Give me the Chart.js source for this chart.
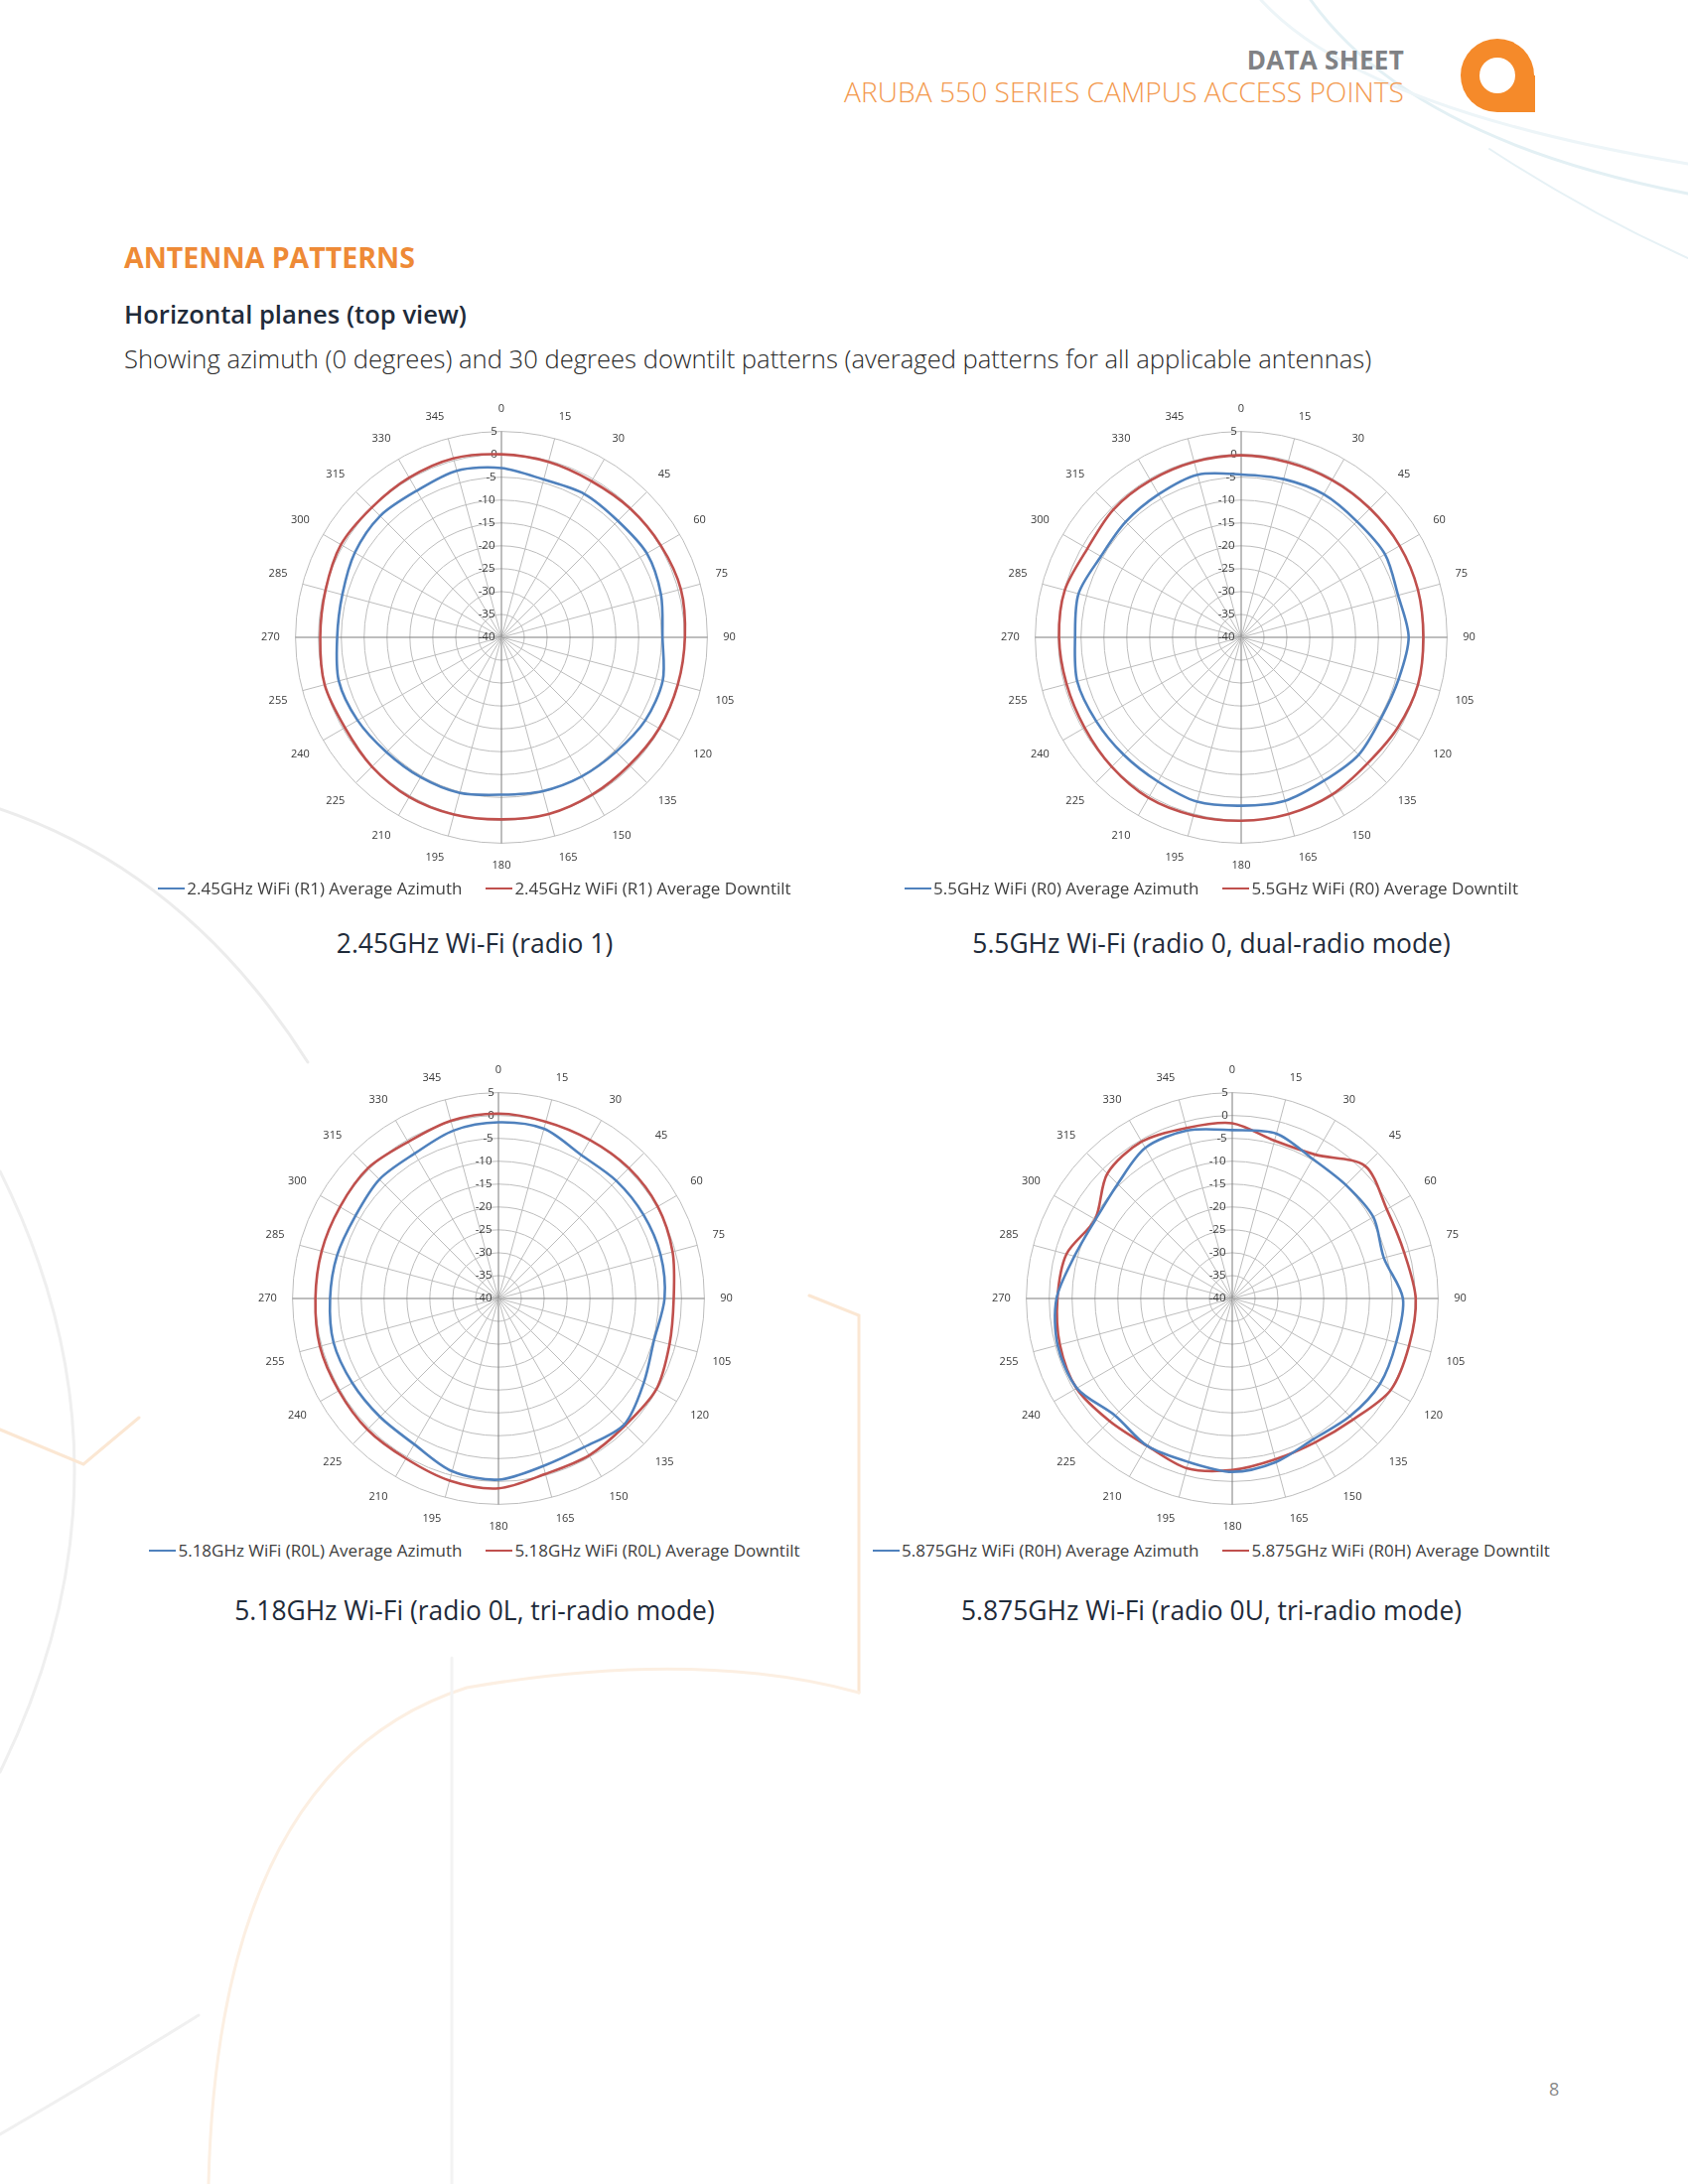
<!DOCTYPE html>
<html>
<head>
<meta charset="utf-8">
<title>Antenna patterns</title>
<script src="https://cdn.jsdelivr.net/npm/chart.js@4.4.1/dist/chart.umd.min.js"></script>
<style>
  body { margin: 0; background: #fff; font-family: "Open Sans", "Noto Sans", sans-serif; }
  #page { position: relative; width: 1700px; height: 2200px; overflow: hidden; background: #fff; }
  .abs { position: absolute; }
  .hdr1 { right: 286px; top: 42px; font-size: 26px; font-weight: 700; color: #808285; letter-spacing: 0.3px; }
  .hdr2 { right: 286px; top: 73px; font-size: 28.2px; font-weight: 300; color: #f39a4f; }
  .h1 { left: 125px; top: 240px; font-size: 28.5px; font-weight: 700; color: #ee8a36; }
  .h2 { left: 125px; top: 299px; font-size: 25.6px; font-weight: 600; color: #1f2b3a; }
  .desc { left: 125px; top: 344px; font-size: 25.6px; font-weight: 300; color: #2a2a2a; }
  .plot { position: absolute; width: 484px; height: 484px; }
  .legend { position: absolute; width: 800px; text-align: center; font-size: 17px; color: #404040; white-space: nowrap; }
  .legend .sw { display: inline-block; width: 27px; height: 2px; vertical-align: middle; margin-right: 2px; position: relative; top: -1px; }
  .legend .gap { display: inline-block; width: 24px; }
  .caption { position: absolute; width: 800px; text-align: center; font-size: 26.4px; color: #1f2b3a; }
  .pnum { left: 1560px; top: 2092px; font-size: 18px; color: #8a8a8a; }
</style>
</head>
<body>
<div id="page">
  <svg class="abs" style="left:0;top:0" width="1700" height="2200">
    <g fill="none" stroke-linecap="round">
      <path d="M1320 0 Q1420 140 1700 195" stroke="#e3f0f4" stroke-width="3"/>
      <path d="M1270 0 Q1370 110 1700 165" stroke="#edf5f8" stroke-width="3"/>
      <path d="M1500 150 Q1600 215 1700 260" stroke="#e6f1f5" stroke-width="2"/>
      <path d="M0 815 Q190 880 310 1070" stroke="#ececec" stroke-width="3"/>
      <path d="M0 1180 Q150 1480 0 1785" stroke="#efefef" stroke-width="3"/>
      <path d="M0 1440 L84 1475 L140 1428" stroke="#fbe7d3" stroke-width="3"/>
      <path d="M815 1305 L865 1325 L865 1705" stroke="#fbe7d3" stroke-width="3"/>
      <path d="M210 2200 Q220 1780 470 1700 Q700 1660 865 1705" stroke="#fcefe2" stroke-width="3"/>
      <path d="M455 1670 L455 2200" stroke="#f3f3f3" stroke-width="3"/>
      <path d="M0 2150 Q120 2080 200 2030" stroke="#f0f0f0" stroke-width="3"/>
    </g>
    <g fill="#f58a2a">
      <circle cx="1508" cy="76" r="37"/>
      <rect x="1508" y="76" width="38" height="37"/>
    </g>
    <circle cx="1508" cy="76" r="18" fill="#fff"/>
  </svg>

  <div class="abs hdr1">DATA SHEET</div>
  <div class="abs hdr2">ARUBA 550 SERIES CAMPUS ACCESS POINTS</div>
  <div class="abs h1">ANTENNA PATTERNS</div>
  <div class="abs h2">Horizontal planes (top view)</div>
  <div class="abs desc">Showing azimuth (0 degrees) and 30 degrees downtilt patterns (averaged patterns for all applicable antennas)</div>

  <div class="plot" style="left:260px;top:400px"><canvas id="c1" width="484" height="484"></canvas></div>
  <div class="plot" style="left:1005px;top:400px"><canvas id="c2" width="484" height="484"></canvas></div>
  <div class="plot" style="left:257px;top:1066px"><canvas id="c3" width="484" height="484"></canvas></div>
  <div class="plot" style="left:996px;top:1066px"><canvas id="c4" width="484" height="484"></canvas></div>

  <div class="legend" id="l1" style="left:78px;top:883px"></div>
  <div class="legend" id="l2" style="left:820px;top:883px"></div>
  <div class="legend" id="l3" style="left:78px;top:1550px"></div>
  <div class="legend" id="l4" style="left:820px;top:1550px"></div>

  <div class="caption" style="left:78px;top:932px">2.45GHz Wi-Fi (radio 1)</div>
  <div class="caption" style="left:820px;top:932px">5.5GHz Wi-Fi (radio 0, dual-radio mode)</div>
  <div class="caption" style="left:78px;top:1604px">5.18GHz Wi-Fi (radio 0L, tri-radio mode)</div>
  <div class="caption" style="left:820px;top:1604px">5.875GHz Wi-Fi (radio 0U, tri-radio mode)</div>

  <div class="abs pnum">8</div>
</div>

<script>
// angles in degrees, clockwise from top
const angleLabels = ["0", "15", "30", "45", "60", "75", "90", "105", "120", "135", "150", "165",
  "180", "195", "210", "225", "240", "255", "270", "285", "300", "315", "330", "345"];

// gain in dB, one value per angle label
const azim245 = [-3, -4.3, -3.8, -4, -3.3, -3.9, -4.8, -3.5, -3.7, -4.6, -4.9, -5.2,
  -5.6, -4.8, -4.7, -4.5, -3.7, -3.2, -4.1, -4, -3, -2.5, -3, -2.3];
const down245 = [0, -0.3, -0.6, -0.2, 0.2, 0.6, 0.1, -0.1, -0.2, -0.5, -0.3, 0,
  -0.2, 0.1, 0.3, 0, -0.5, 0, -0.4, -0.2, 0.5, 0.1, 0.3, 0.5];

const azim55 = [-4.4, -4.2, -3.9, -4.2, -3.7, -4.5, -3.4, -4.4, -4.7, -3.7, -3.8, -3.0,
  -3.2, -2.8, -3.6, -3.7, -3.4, -2.9, -3.7, -3.2, -4.6, -4.3, -3.9, -3.2];
const down55 = [-0.2, -0.4, -0.3, -0.2, 0, 0, -0.2, 0, -0.5, -1, -0.3, 0,
  0.1, 0.3, 0.5, 0, -0.5, -0.5, -0.2, -0.1, -1.2, -0.5, -0.4, -0.3];

const azim518 = [-1.5, -1.6, -3.8, -3.6, -3.4, -3.3, -3.7, -4.8, -3.3, -1.1, -2.5, -2.1,
  -0.4, -0.9, -3.2, -3.4, -3.1, -2.7, -3.2, -3.5, -3.9, -3.2, -3.4, -2];
const down518 = [0.4, 0, 0, 0.3, 0.2, -0.6, -1.7, -1.3, -0.2, -0.8, -0.4, -0.3,
  1.5, 1.2, 0.4, 0.5, 0.3, 0.4, 0, 0, 0, 0.3, -0.5, 0.2];

const azim5875 = [-3.2, -2.7, -4.8, -4.9, -4.4, -5.7, -2.7, -2.9, -2.7, -3.6, -4.5, -3,
  -2.1, -3, -2.8, -3.8, -0.8, -0.5, -1.6, -4.3, -5.5, -4.6, -2, -2];
const down5875 = [-1.7, -4.3, -3.7, 1, -1, -1.1, 0.1, 0, 0, -2.6, -3.7, -3.6,
  -2.5, -1.6, -2.8, -2.1, -0.7, -1, -1.8, -2.5, -5.4, -1.4, -0.4, -1.4];

const blue = "#4f81bd";
const red = "#c0504d";

function padTick(v) {
  const s = String(v);
  return s + " ".repeat(Math.round(2.4 * s.length + 2.5));
}

function makeChart(id, legendId, nameA, nameD, az, dt) {
  const ctx = document.getElementById(id).getContext("2d");
  new Chart(ctx, {
    type: "radar",
    data: {
      labels: angleLabels,
      datasets: [
        { label: nameA, data: az, borderColor: blue, borderWidth: 2.6, pointRadius: 0, fill: false, tension: 0.3 },
        { label: nameD, data: dt, borderColor: red, borderWidth: 2.6, pointRadius: 0, fill: false, tension: 0.3 },
      ],
    },
    options: {
      responsive: false,
      animation: false,
      layout: { padding: 0 },
      plugins: { legend: { display: false }, tooltip: { enabled: false } },
      scales: {
        r: {
          min: -40,
          max: 5,
          ticks: {
            stepSize: 5,
            showLabelBackdrop: false,
            color: "#3a3a3a",
            font: { family: "Open Sans", size: 11.5 },
            callback: padTick,
          },
          grid: { circular: true, color: "#bdbdbd", lineWidth: 1 },
          angleLines: {
            color: (c) => (c.index % 6 === 0 ? "#7d7d7d" : "#bdbdbd"),
            lineWidth: 1,
          },
          pointLabels: {
            color: "#3a3a3a",
            font: { family: "Open Sans", size: 11 },
            padding: 8,
          },
        },
      },
    },
  });
  document.getElementById(legendId).innerHTML =
    '<span class="sw" style="background:' + blue + '"></span>' + nameA +
    '<span class="gap"></span>' +
    '<span class="sw" style="background:' + red + '"></span>' + nameD;
}

window.onload = function () {
  makeChart("c1", "l1", "2.45GHz WiFi (R1) Average Azimuth", "2.45GHz WiFi (R1) Average Downtilt", azim245, down245);
  makeChart("c2", "l2", "5.5GHz WiFi (R0) Average Azimuth", "5.5GHz WiFi (R0) Average Downtilt", azim55, down55);
  makeChart("c3", "l3", "5.18GHz WiFi (R0L) Average Azimuth", "5.18GHz WiFi (R0L) Average Downtilt", azim518, down518);
  makeChart("c4", "l4", "5.875GHz WiFi (R0H) Average Azimuth", "5.875GHz WiFi (R0H) Average Downtilt", azim5875, down5875);
};
</script>
</body>
</html>
